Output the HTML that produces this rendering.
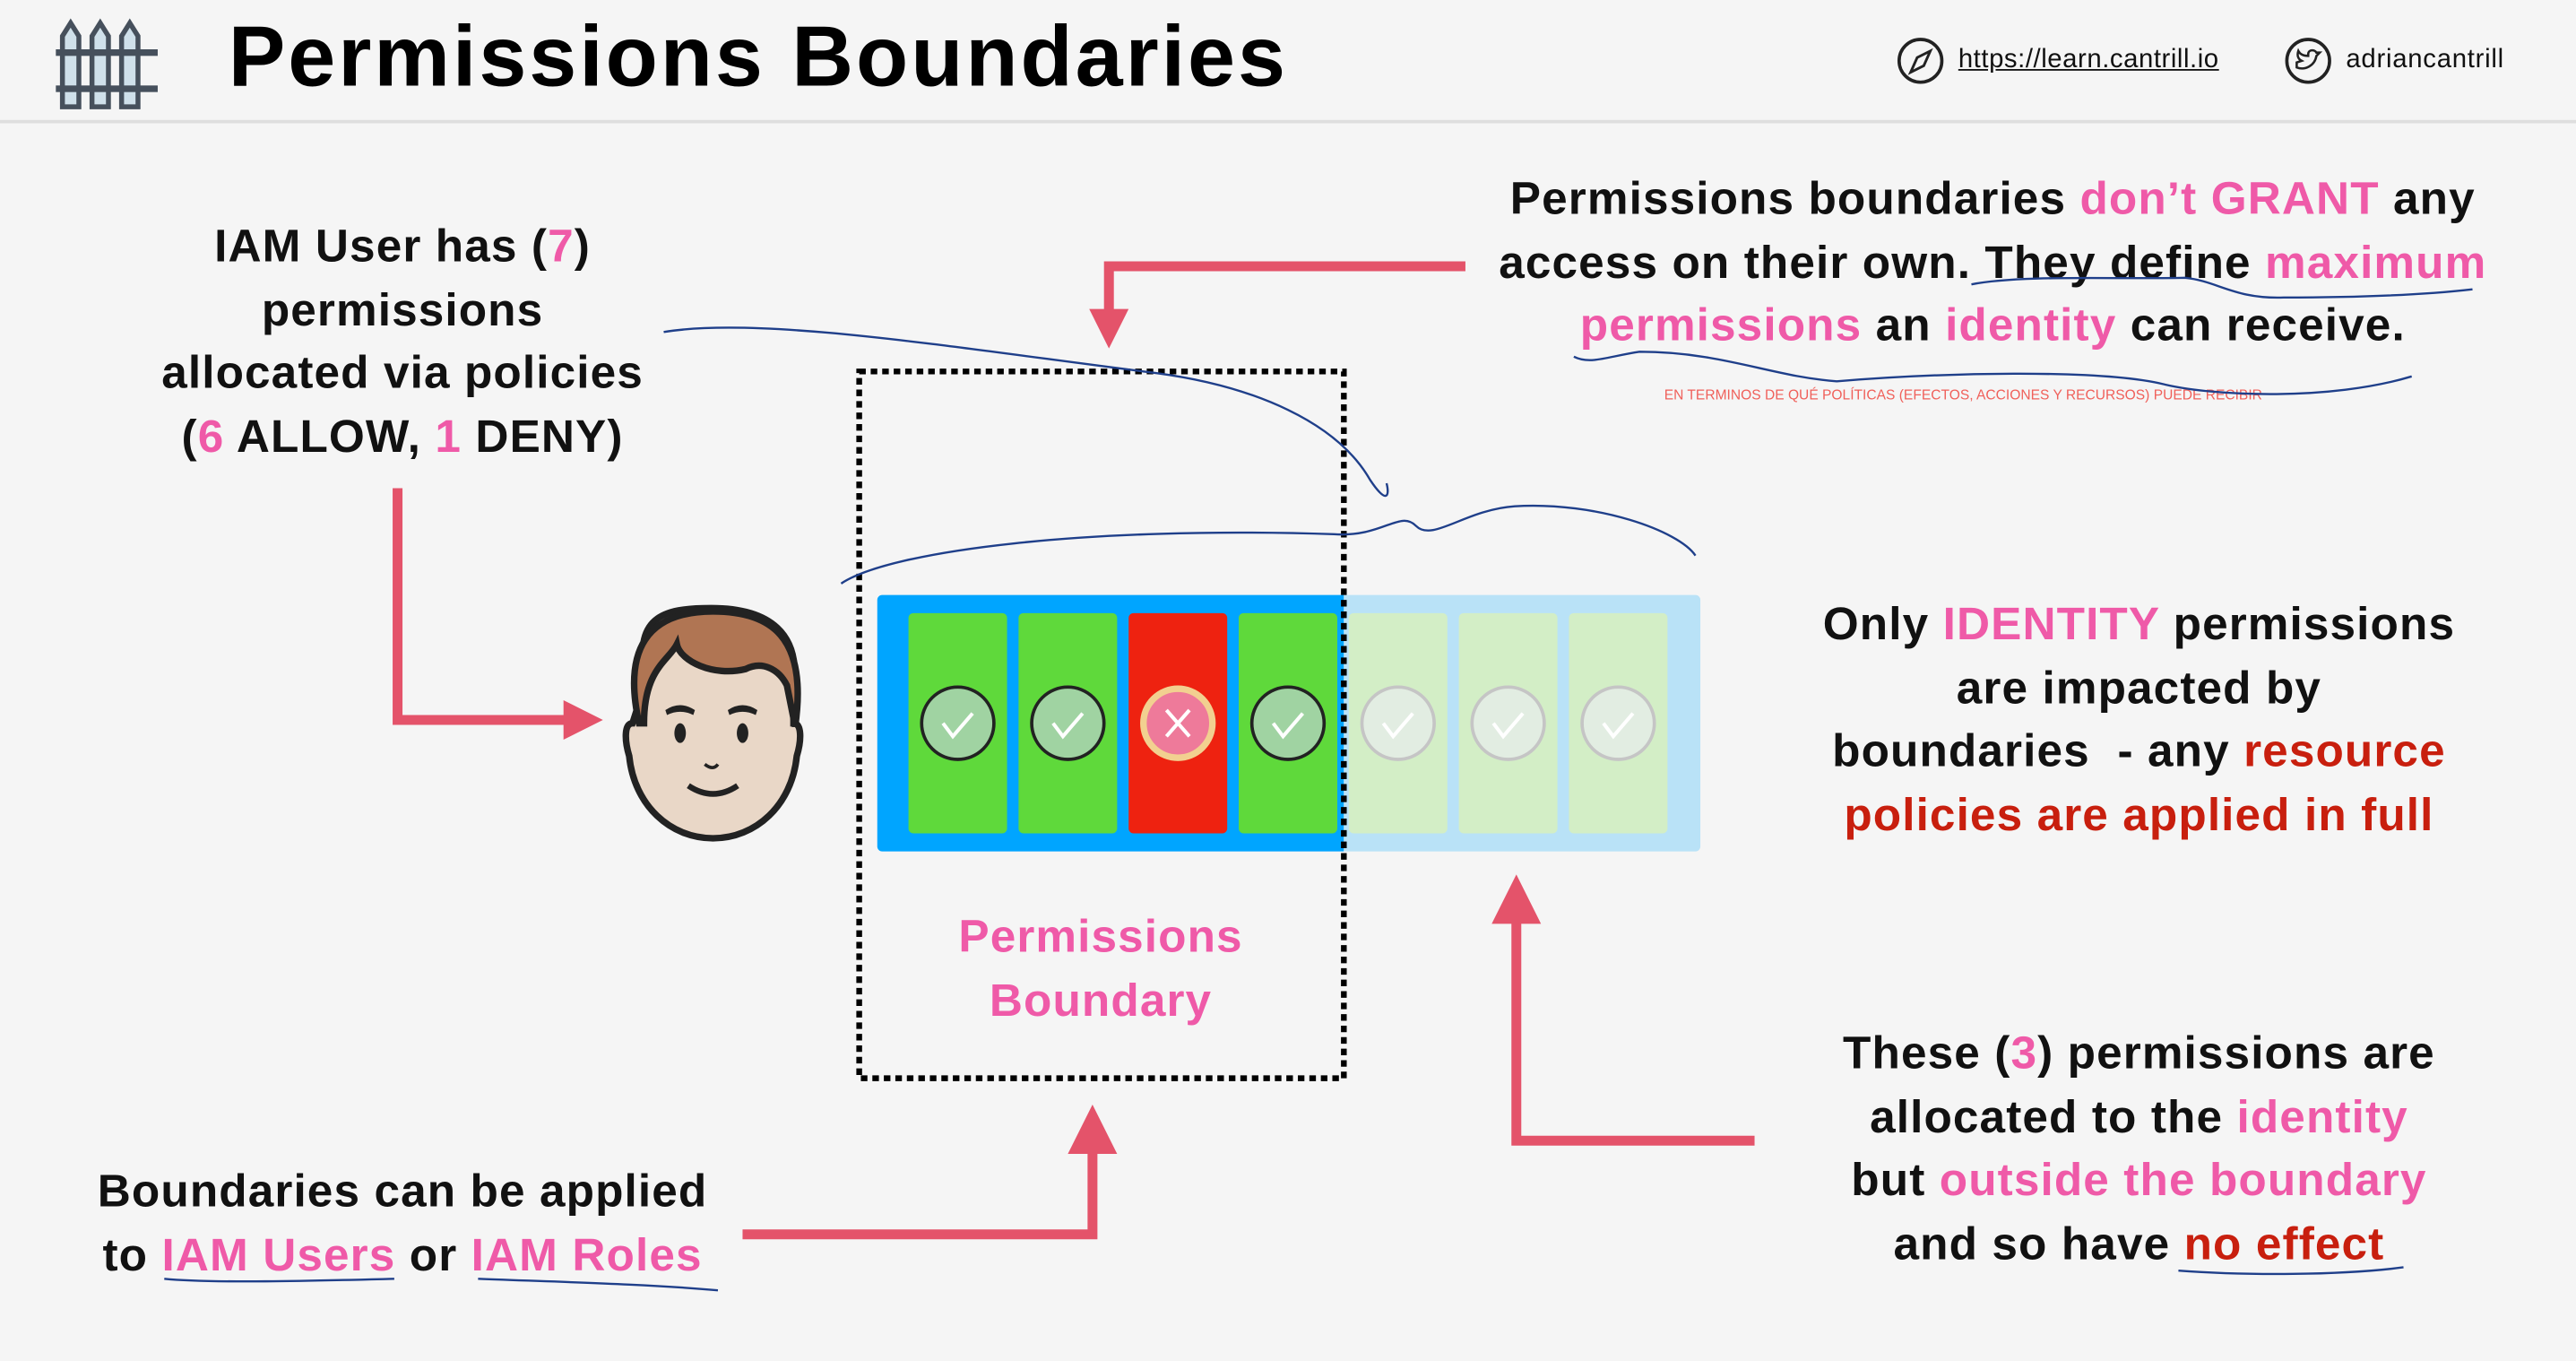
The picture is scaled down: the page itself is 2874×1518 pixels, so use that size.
<!DOCTYPE html>
<html><head><meta charset="utf-8"><style>
html,body{margin:0;padding:0;background:#f5f5f5;width:2874px;height:1518px;overflow:hidden}
#s{position:absolute;left:0;top:0;width:1568px;height:828px;transform:scale(1.8329,1.8333);transform-origin:0 0;font-family:"Liberation Sans",sans-serif;}
.t{position:absolute;font-weight:bold;font-size:28px;color:#111;text-align:center;line-height:38.5px;white-space:nowrap;letter-spacing:0.6px}
.p{color:#ef5aa8}.r{color:#c81f0e}
.card{position:absolute;top:373px;width:60px;height:134px;border-radius:3px}
</style></head><body><div id="s">
<div style="position:absolute;left:0;top:73px;width:1568px;height:2px;background:#dedede"></div>
<svg style="position:absolute;left:30px;top:10px" width="70" height="58" viewBox="0 0 70 58">
<g fill="#cfe0ea" stroke="#46505c" stroke-width="3">
<path d="M8 55V12l5-8 5 8v43z"/><path d="M26 55V12l5-8 5 8v43z"/><path d="M44 55V12l5-8 5 8v43z"/>
</g><rect x="4" y="20" width="62" height="4" fill="#46505c"/><rect x="4" y="42" width="62" height="4" fill="#46505c"/></svg>
<div style="position:absolute;left:139px;top:5px;font-size:52px;font-weight:bold;color:#000;letter-spacing:1.6px">Permissions Boundaries</div>
<svg style="position:absolute;left:1154px;top:22px" width="30" height="30"><circle cx="15" cy="15" r="13" fill="none" stroke="#222" stroke-width="2"/><path d="M21 9l-4 9-8 4 4-9z" fill="none" stroke="#222" stroke-width="1.6"/></svg>
<div style="position:absolute;left:1192px;top:28px;font-size:16px;color:#111;text-decoration:underline;letter-spacing:0.3px">https://learn.cantrill.io</div>
<svg style="position:absolute;left:1390px;top:22px" width="30" height="30"><circle cx="15" cy="15" r="13" fill="none" stroke="#222" stroke-width="2"/><path d="M8 19c5 2 11-1 12-7l2-2-2 0c-1-2-5-2-5 1v1c-3 0-5-1-6-3-1 3 0 5 2 6-3 1-3 1-3 1z" fill="none" stroke="#222" stroke-width="1.4"/></svg>
<div style="position:absolute;left:1428px;top:28px;font-size:16px;color:#111;letter-spacing:0.4px">adriancantrill</div>

<div class="t" style="left:45px;width:400px;top:131px">IAM User has (<span class="p">7</span>)<br>permissions<br>allocated via policies<br>(<span class="p">6</span> ALLOW, <span class="p">1</span> DENY)</div>
<div class="t" style="left:810px;width:806px;top:102px">Permissions boundaries <span class="p">don’t GRANT</span> any<br>access on their own. They define <span class="p">maximum</span><br><span class="p">permissions</span> an <span class="p">identity</span> can receive.</div>
<div style="position:absolute;left:1013px;top:235px;font-size:8.5px;color:#f0605a;white-space:nowrap">EN TERMINOS DE QUÉ POLÍTICAS (EFECTOS, ACCIONES Y RECURSOS) PUEDE RECIBIR</div>
<div class="t" style="left:1002px;width:600px;top:361px">Only <span class="p">IDENTITY</span> permissions<br>are impacted by<br>boundaries &nbsp;- any <span class="r">resource</span><br><span class="r">policies are applied in full</span></div>
<div class="t" style="left:1002px;width:600px;top:622px">These (<span class="p">3</span>) permissions are<br>allocated to the <span class="p">identity</span><br>but <span class="p">outside the boundary</span><br>and so have <span class="r">no effect</span></div>
<div class="t" style="left:0px;width:490px;top:706px">Boundaries can be applied<br>to <span class="p">IAM Users</span> or <span class="p">IAM Roles</span></div>
<div class="t p" style="left:520px;width:300px;top:551px">Permissions<br>Boundary</div>

<div style="position:absolute;left:534px;top:362px;width:284px;height:156px;background:#00a5ff;border-radius:3px 0 0 3px"></div>
<div style="position:absolute;left:818px;top:362px;width:217px;height:156px;background:#b9e2f7;border-radius:0 3px 3px 0"></div>
<div class="card" style="left:553px;background:#5fd93b"></div>
<div class="card" style="left:620px;background:#5fd93b"></div>
<div class="card" style="left:687px;background:#ee2210"></div>
<div class="card" style="left:754px;background:#5fd93b"></div>
<div class="card" style="left:821px;background:#d3eec6"></div>
<div class="card" style="left:888px;background:#d3eec6"></div>
<div class="card" style="left:955px;background:#d3eec6"></div>
<svg style="position:absolute;left:0;top:0" width="1568" height="828">
<g stroke-width="2">
<g fill="#a0d3a2" stroke="#222"><ellipse cx="583" cy="440" rx="22" ry="22"/><ellipse cx="650" cy="440" rx="22" ry="22"/><ellipse cx="784" cy="440" rx="22" ry="22"/></g>
<ellipse cx="717" cy="440" rx="21" ry="21" fill="#ee7a9a" stroke="#f2d090" stroke-width="4"/>
<g fill="#e2ede2" stroke="#c5c5c5"><ellipse cx="851" cy="440" rx="22" ry="22"/><ellipse cx="918" cy="440" rx="22" ry="22"/><ellipse cx="985" cy="440" rx="22" ry="22"/></g>
</g>
<g fill="none" stroke="#fff" stroke-width="2.2"><path d="M574 440l6 8 12-14M641 440l6 8 12-14M775 440l6 8 12-14M842 440l6 8 12-14M909 440l6 8 12-14M976 440l6 8 12-14M710 432l14 16M724 432l-14 16"/></g>
<rect x="523" y="226" width="295" height="430" fill="none" stroke="#000" stroke-width="3.5" stroke-dasharray="4 3"/>
<g fill="none" stroke="#e4536a" stroke-width="6">
<path d="M242 297V438H345"/><path d="M892 162H675V192"/><path d="M1068 694H923V558"/><path d="M452 751H665V700"/></g>
<g fill="#e4536a"><path d="M367 438l-24-12v24z"/><path d="M675 212l-12-24h24z"/><path d="M923 532l-15 30h30z"/><path d="M665 672l-15 30h30z"/></g>
<path d="M393 415c-8-40 10-45 40-45 35 0 55 15 50 50v20c5 0 5 10 2 20-3 30-25 50-51 50-26 0-48-20-51-50-3-10-3-20 2-20z" fill="#e9d7c7" stroke="#222" stroke-width="4"/>
<path d="M389 440c-10-45 5-68 45-68 35 0 58 15 50 70l-5-25c-5-10-15-15-25-10-20 5-40-5-42-15-5 10-20 15-20 48z" fill="#b07553" stroke="#222" stroke-width="4"/>
<g fill="#222"><ellipse cx="414" cy="446" rx="3.5" ry="6"/><ellipse cx="452" cy="446" rx="3.5" ry="6"/><path d="M405 432q9-6 18 0l-1 3q-8-4-16 0zM443 432q9-6 18 0l-1 3q-8-4-16 0z"/></g>
<path d="M419 478q15 10 30 0" fill="none" stroke="#222" stroke-width="3.5"/><path d="M429 465q5 4 8 0" fill="none" stroke="#222" stroke-width="2"/>
<g fill="none" stroke="#1f3f8a" stroke-width="1.3">
<path d="M404 202c60-10 180 10 300 25 60 8 110 30 130 65 10 15 12 10 10 2"/>
<path d="M512 355c30-20 150-35 300-30 30 2 40-15 50-5 10 10 30-10 60-12 50-3 100 15 110 30"/>
<path d="M1200 173c30-6 90-3 130-4 20 2 30 13 60 12 40 0 80-1 115-5"/>
<path d="M958 217c10 5 20 0 40-3 50 0 80 15 120 18 60-5 160-8 200 2 30 7 100 10 150-5"/>
<path d="M100 778c30 3 100 1 140 0M291 778c50 2 100 3 146 7M1326 773c40 3 100 3 137-2"/>
</g>
</svg>
</div></body></html>
